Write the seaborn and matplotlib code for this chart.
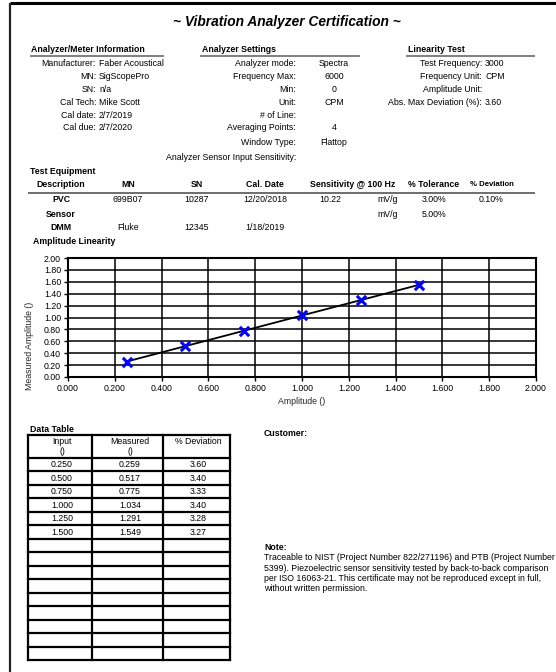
import matplotlib
matplotlib.use("Agg")
import matplotlib.pyplot as plt
import seaborn as sns
import pandas as pd

# ---------------- data ----------------
inputs = [0.250, 0.500, 0.750, 1.000, 1.250, 1.500]
measured = [0.259, 0.517, 0.775, 1.034, 1.291, 1.549]
deviation = ["3.60", "3.40", "3.33", "3.40", "3.28", "3.27"]
input_labels = ["0.250", "0.500", "0.750", "1.000", "1.250", "1.500"]
measured_labels = ["0.259", "0.517", "0.775", "1.034", "1.291", "1.549"]

x_ticks = [0.0, 0.2, 0.4, 0.6, 0.8, 1.0, 1.2, 1.4, 1.6, 1.8, 2.0]
x_tick_labels = ["0.000", "0.200", "0.400", "0.600", "0.800", "1.000",
                 "1.200", "1.400", "1.600", "1.800", "2.000"]
y_ticks = [0.0, 0.2, 0.4, 0.6, 0.8, 1.0, 1.2, 1.4, 1.6, 1.8, 2.0]
y_tick_labels = ["0.00", "0.20", "0.40", "0.60", "0.80", "1.00",
                 "1.20", "1.40", "1.60", "1.80", "2.00"]

meter_labels = ["Manufacturer:", "MN:", "SN:", "Cal Tech:", "Cal date:", "Cal due:"]
meter_values = ["Faber Acoustical", "SigScopePro", "n/a", "Mike Scott", "2/7/2019", "2/7/2020"]
settings_labels = ["Analyzer mode:", "Frequency Max:", "Min:", "Unit:", "# of Line:",
                   "Averaging Points:", "Window Type:", "Analyzer Sensor Input Sensitivity:"]
settings_values = ["Spectra", "6000", "0", "CPM", "", "4", "Flattop", ""]
lin_labels = ["Test Frequency:", "Frequency Unit:", "Amplitude Unit:", "Abs. Max Deviation (%):"]
lin_values = ["3000", "CPM", "", "3.60"]

equip_headers = ["Description", "MN", "SN", "Cal. Date", "Sensitivity @ 100 Hz", "% Tolerance", "% Deviation"]
equip_rows = [
    ["PVC", "699B07", "10287", "12/20/2018", "10.22", "mV/g", "3.00%", "0.10%"],
    ["Sensor", "", "", "", "", "mV/g", "5.00%", ""],
    ["DMM", "Fluke", "12345", "1/18/2019", "", "", "", ""],
]

note_lines = [
    "Traceable to NIST (Project Number 822/271196) and PTB (Project Number",
    "5399). Piezoelectric sensor sensitivity tested by back-to-back comparison",
    "per ISO 16063-21. This certificate may not be reproduced except in full,",
    "without written permission.",
]

# ---------------- style ----------------
sns.set_style("white")
plt.rcParams["font.family"] = ["Liberation Sans", "DejaVu Sans"]
FS = 6.3

W, H = 556, 672
fig = plt.figure(figsize=(W / 100, H / 100), dpi=100)
fig.patch.set_facecolor("white")

page = fig.add_axes([0, 0, 1, 1])
page.set_xlim(0, W)
page.set_ylim(H, 0)
page.axis("off")


def t(x, y, s, ha="left", weight="normal", size=FS, **kw):
    page.text(x, y, s, ha=ha, va="center", fontsize=size, fontweight=weight, color="black", **kw)


# page border
page.plot([10, W], [3, 3], color="black", lw=2.2, solid_capstyle="butt")
page.plot([10, 10], [3, H], color="#222222", lw=1.6, solid_capstyle="butt")

# title
t(287, 22, "~ Vibration Analyzer Certification ~", ha="center", weight="bold",
  size=9.9, style="italic")

# section headers
t(31, 49.5, "Analyzer/Meter Information", weight="bold")
t(202, 49.5, "Analyzer Settings", weight="bold")
t(408, 49.5, "Linearity Test", weight="bold")
for x0, x1 in [(30, 164), (200, 360), (406, 535)]:
    page.plot([x0, x1], [55.7, 55.7], color="#6a6a6a", lw=1.2, solid_capstyle="butt")

row_y = [63.8, 76.6, 89.4, 102.2, 115.0, 127.8, 142.5, 157.0]
for i, (lab, val) in enumerate(zip(meter_labels, meter_values)):
    t(96, row_y[i], lab, ha="right")
    t(99, row_y[i], val)
for i, (lab, val) in enumerate(zip(settings_labels, settings_values)):
    t(296, row_y[i], lab, ha="right")
    t(334, row_y[i], val, ha="center")
for i, (lab, val) in enumerate(zip(lin_labels, lin_values)):
    t(482, row_y[i], lab, ha="right")
    t(485, row_y[i], val)

# test equipment
t(30, 172, "Test Equipment", weight="bold")
eq_x = [61, 128, 197, 265, 353, 434, 492]
for x, h in zip(eq_x, equip_headers):
    t(x, 184.5, h, ha="center", weight="bold", size=FS if h != "% Deviation" else 5.6)
page.plot([28, 535], [193, 193], color="#555555", lw=1.2, solid_capstyle="butt")
eq_row_x = [61, 128, 197, 265, 330, 388, 434, 491]
for r, row in enumerate(equip_rows):
    y = [200, 214.5, 228][r]
    for c, (x, v) in enumerate(zip(eq_row_x, row)):
        t(x, y, v, ha="center", weight="bold" if c == 0 else "normal")

# ---------------- chart ----------------
t(33, 242, "Amplitude Linearity", weight="bold")
ax = fig.add_axes([68 / W, 1 - 377 / H, 468 / W, 119 / H])
df = pd.DataFrame({"Amplitude": inputs, "Measured": measured})
sns.lineplot(data=df, x="Amplitude", y="Measured", ax=ax, color="black", lw=1.3, zorder=3)
sns.scatterplot(data=df, x="Amplitude", y="Measured", ax=ax, marker="x", color="#0000ff",
                s=45, linewidth=2.2, zorder=4)
ax.set_xlim(0, 2.0)
ax.set_ylim(0, 2.0)
ax.set_xticks(x_ticks)
ax.set_xticklabels(x_tick_labels)
ax.set_yticks(y_ticks)
ax.set_yticklabels(y_tick_labels)
ax.grid(True, color="black", lw=1.1)
ax.set_axisbelow(True)
for sp in ax.spines.values():
    sp.set_color("black")
    sp.set_linewidth(1.5)
ax.tick_params(direction="out", length=3, width=1, labelsize=FS, pad=2, colors="black",
               left=True, bottom=True)
ax.set_xlabel("Amplitude ()", fontsize=FS, va="center")
ax.xaxis.set_label_coords(0.5, (377 - 402) / 119)
ax.set_ylabel("Measured Amplitude ()", fontsize=FS, va="center")
ax.yaxis.set_label_coords((29 - 68) / 468, (377 - 346) / 119)

# ---------------- data table ----------------
t(30, 430, "Data Table", weight="bold")
col_edges = [28, 92, 163, 230]
top, head_bot, bot = 435, 458, 660
n_rows = 15
rh = (bot - head_bot) / n_rows
row_edges = [top] + [head_bot + i * rh for i in range(n_rows + 1)]
for y in row_edges:
    page.plot([col_edges[0], col_edges[-1]], [y, y], color="black", lw=1.6, solid_capstyle="projecting")
for x in col_edges:
    page.plot([x, x], [top, bot], color="black", lw=1.6, solid_capstyle="projecting")
col_c = [62, 130, 198]
t(col_c[0], 442, "Input", ha="center")
t(col_c[0], 451, "()", ha="center")
t(col_c[1], 442, "Measured", ha="center")
t(col_c[1], 451, "()", ha="center")
t(col_c[2], 442, "% Deviation", ha="center")
for i in range(len(inputs)):
    y = head_bot + (i + 0.5) * rh
    t(col_c[0], y, input_labels[i], ha="center")
    t(col_c[1], y, measured_labels[i], ha="center")
    t(col_c[2], y, deviation[i], ha="center")

# customer + note
t(264, 433, "Customer:", weight="bold")
t(264, 547, "Note:", weight="bold")
for i, line in enumerate(note_lines):
    t(264, 558 + i * 10.3, line)

fig.savefig("out.png", dpi=100, facecolor="white")
